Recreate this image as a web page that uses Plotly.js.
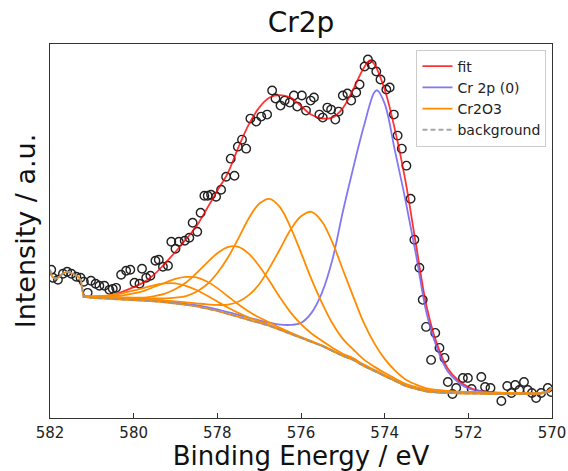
<!DOCTYPE html>
<html>
<head>
<meta charset="utf-8">
<script src="https://cdn.plot.ly/plotly-3.0.1.min.js"></script>
<style>html,body{margin:0;padding:0;background:#fff;}#chart{width:568px;height:471px;}</style>
</head>
<body>
<div id="chart"></div>
<script>
// measured points (binding energy eV, intensity a.u.)
const dataE = [581.97,581.93,581.81,581.69,581.59,581.49,581.37,581.27,581.19,581.10,
581.02,580.91,580.82,580.70,580.58,580.50,580.42,580.30,580.18,580.08,
579.98,579.86,579.80,579.70,579.60,579.48,579.40,579.30,579.18,579.10,
579.00,578.92,578.78,578.67,578.59,578.48,578.40,578.31,578.23,578.15,
578.03,577.91,577.79,577.68,577.59,577.51,577.41,577.31,577.21,577.07,
576.95,576.81,576.69,576.61,576.49,576.39,576.27,576.17,576.09,575.98,
575.88,575.77,575.69,575.56,575.48,575.37,575.28,575.18,575.10,575.00,
574.89,574.80,574.68,574.60,574.48,574.40,574.31,574.20,574.10,573.96,
573.88,573.78,573.69,573.59,573.48,573.38,573.29,573.17,573.09,573.01,
572.89,572.79,572.69,572.57,572.49,572.38,572.29,572.13,572.01,571.92,
571.69,571.60,571.47,571.21,571.07,570.97,570.88,570.78,570.67,570.58,
570.48,570.38,570.26,570.10,570.02];
const dataI = [148,140,138,144,146,144,141,140,136,125,
137,134,132,132,128,129,130,143,147,148,
135,134,149,140,142,157,158,151,152,176,
169,176,177,180,195,186,205,222,222,223,
221,228,241,259,242,271,278,269,299,296,
301,303,327,319,312,317,315,322,311,322,
307,317,320,303,300,310,308,298,306,322,
324,317,325,333,351,358,353,346,338,328,
330,303,282,269,252,219,178,150,118,91,
58,85,70,60,36,24,30,40,40,29,
41,31,30,17,32,25,33,28,36,28,
25,20,25,30,26];

// component energy grid
const gridE = [581.2,581.0,580.75,580.5,580.25,580.0,579.75,579.5,579.25,579.0,
578.75,578.5,578.25,578.0,577.75,577.5,577.25,577.0,576.75,576.5,
576.25,576.0,575.75,575.5,575.25,575.0,574.75,574.5,574.25,574.0,
573.75,573.5,573.25,573.0,572.75,572.5,572.25,572.0,571.75,571.5,
571.25,571.0,570.75,570.5,570.25,570.1,570.0];

// background (full range)
const bgE = [582.0,581.95,581.88,581.8,581.7,581.6,581.5,581.4,581.32,581.26].concat(gridE);
const bgI = [148,141,139,140,144,146,145,143,141,137,
121,120,119.5,119,118.5,118,117,116.5,115.5,114.5,
113,111.5,109.5,107,104,101,98,95,92,88,
84,80,76,72,67,62,58,52,47,42,
37,32,29,26.5,25.5,25,24.5,24.5,24.5,24,
24,24,24,24,24.5,26,30];

// Cr2O3 multiplet components (background included)
const cr2o3A = [121.8,120.8,120.4,120.0,119.6,119.2,118.4,118.1,117.3,116.5,
115.4,114.5,113.5,112.9,113.2,116.1,122.7,133.6,150.2,168.8,
188,201.4,205.9,196.2,175.3,148.3,121.2,95.2,74.8,59,
47.3,38.5,33.4,29.7,28,27.1,26.3,26.1,25.9,25.3,
25.1,25,24.9,24.8,25.3,26.7,30.7];
const cr2o3B = [122.1,121.2,120.8,120.5,120.2,120,119.3,119.4,119.4,120.2,
121.8,126.1,133.3,144.8,160.1,179.2,199.3,213.9,218.8,210.3,
190.4,165.2,138.6,115,94.6,79,68.4,58.5,51.3,45.2,
39.5,34.1,30.8,28.1,26.9,26.2,25.6,25.5,25.4,24.8,
24.7,24.7,24.6,24.6,25,26.5,30.5];
const cr2o3C = [121.9,121,120.6,120.3,120.2,120.3,120.3,121.8,124.2,128.8,
135.4,144.6,155,164.5,170.7,170.9,164.1,151.8,136.5,120.2,
105.5,93.7,84.4,77.1,70.2,64.2,59.6,53.3,48.1,43,
37.8,32.7,29.7,27.1,26,25.5,24.9,24.9,24.9,24.4,
24.3,24.3,24.3,24.3,24.8,26.3,30.3];
const cr2o3D = [121.8,121,121,121.4,122.5,124.4,127,131.1,135.1,139,
140.9,140.4,136.3,129.7,121.6,113.6,106.4,100.3,95.3,90,
85.3,80.9,76.7,72.5,67.5,62.4,58.4,52.3,47.3,42.3,
37.3,32.3,29.3,26.8,25.7,25.2,24.7,24.7,24.7,24.2,
24.2,24.2,24.2,24.2,24.7,26.2,30.2];
const cr2o3E = [122,121.5,121.9,123,124.8,127.3,129.9,132.8,134.5,134.5,
132,127.8,122.4,116.3,110.3,105,100.4,96.5,92.9,88.6,
84.5,80.4,76.3,72.3,67.2,62.2,58.2,52.2,47.2,42.2,
37.2,32.2,29.2,26.7,25.7,25.2,24.7,24.6,24.6,24.1,
24.1,24.1,24.1,24.1,24.6,26.1,30.1];

// Cr 2p (0) metal component
const cr0E = [581.2,581.0,580.75,580.5,580.25,580.0,579.75,579.5,579.25,579.0,
578.75,578.5,578.25,578.0,577.75,577.5,577.25,577.0,576.75,576.5,
576.25,576.0,575.75,575.5,575.25,575.0,574.75,574.5,574.25,574.18,574.0,
573.75,573.5,573.25,573.0,572.75,572.5,572.25,572.0,571.75,571.5,
571.25,571.0,570.75,570.5,570.25,570.1,570.0];
const cr0I = [121.5,120.5,120,119.5,119,118.5,117.6,117.2,116.3,115.4,
114,112.6,110.8,108.5,105.8,103,100.3,97.6,95.2,93.3,
93,95,105,125,158,206,250,291,325,327.3,314,
266,217,163,105,70,47,36,29.5,27,25.5,
25,24.7,24.5,24.4,25,26.5,30.3];

// total fit
const fitE = [581.2,581.0,580.75,580.5,580.25,580.0,579.75,579.5,579.25,579.0,
578.75,578.5,578.25,578.0,577.75,577.5,577.25,577.0,576.75,576.5,
576.25,576.0,575.75,575.5,575.25,575.0,574.75,574.5,574.35,574.25,574.0,
573.75,573.5,573.25,573.0,572.75,572.5,572.25,572.0,571.75,571.5,
571.25,571.0,570.75,570.5,570.25,570.1,570.0];
const fitI = [121,121.3,121.6,122.7,126.4,130.7,135.7,143.7,154.5,166,
178.5,191.5,209,227,244.6,270,293,310,320,322.5,
320,311.5,302.8,299.2,300,309.5,328.5,349.5,357,353.5,328,
287,236,173,112,74,50,38,31,27.3,25.8,
25.2,24.8,24.6,24.5,25.2,26.7,30.5];

const xTicks = [582,580,578,576,574,572,570];

const FONT = 'DejaVu Sans, Liberation Sans, sans-serif';
const ORANGE = '#ff8c00';
const traces = [
  {x: dataE, y: dataI, mode: 'markers', type: 'scatter', showlegend: false,
   marker: {symbol: 'circle-open', size: 8.5, color: '#222', line: {width: 1.4}}},
  {x: fitE, y: fitI, mode: 'lines', name: 'fit', line: {color: 'rgba(255,0,0,0.8)', width: 1.8, shape: 'spline'}},
  {x: cr0E, y: cr0I, mode: 'lines', name: 'Cr 2p (0)', line: {color: 'rgba(110,95,240,0.85)', width: 1.8, shape: 'spline'}},
];
const peaks = [cr2o3A, cr2o3B, cr2o3C, cr2o3D, cr2o3E];
peaks.forEach((p, i) => traces.push({x: gridE, y: p, mode: 'lines', name: 'Cr2O3', legendgroup: 'ox',
  showlegend: i === 0, line: {color: ORANGE, width: 1.8, shape: 'spline'}}));
traces.push({x: bgE, y: bgI, mode: 'lines', showlegend: false, legendgroup: 'ox', line: {color: ORANGE, width: 1.8}});
traces.push({x: bgE, y: bgI, mode: 'lines', name: 'background', line: {color: 'rgba(150,150,150,0.85)', width: 2, dash: '5px,3px'}});

const layout = {
  width: 568, height: 471,
  margin: {l: 50, r: 16, t: 44, b: 53},
  paper_bgcolor: '#fff', plot_bgcolor: '#fff',
  font: {family: FONT, color: '#222'},
  title: {text: 'Cr2p', font: {family: FONT, size: 28, color: '#111'}, x: 0.5, xref: 'paper', y: 0.952, yref: 'container', yanchor: 'middle'},
  xaxis: {range: [582, 570], tickvals: xTicks, ticktext: xTicks.map(String), ticks: 'inside', ticklen: 5, tickwidth: 1, tickcolor: '#333',
    ticklabelstandoff: 1,
    showline: true, mirror: true, linecolor: '#333', linewidth: 1.2, showgrid: false, zeroline: false,
    tickfont: {family: FONT, size: 15, color: '#222'},
    title: {text: 'Binding Energy / eV', font: {family: FONT, size: 26, color: '#111'}, standoff: 4}, automargin: false},
  yaxis: {range: [0, 373.5], showticklabels: false, ticks: '', showline: true, mirror: true, linecolor: '#333', linewidth: 1.2,
    showgrid: false, zeroline: false,
    title: {text: 'Intensity / a.u.', font: {family: FONT, size: 27, color: '#111'}, standoff: 5}, automargin: false},
  legend: {x: 0.989, xanchor: 'right', y: 0.985, yanchor: 'top', bgcolor: 'rgba(255,255,255,0.85)', bordercolor: '#ccc', borderwidth: 1,
    font: {family: FONT, size: 14, color: '#222'}, itemwidth: 30, tracegroupgap: 0},
  showlegend: true
};
Plotly.newPlot('chart', traces, layout, {staticPlot: true, displayModeBar: false});
</script>
</body>
</html>
